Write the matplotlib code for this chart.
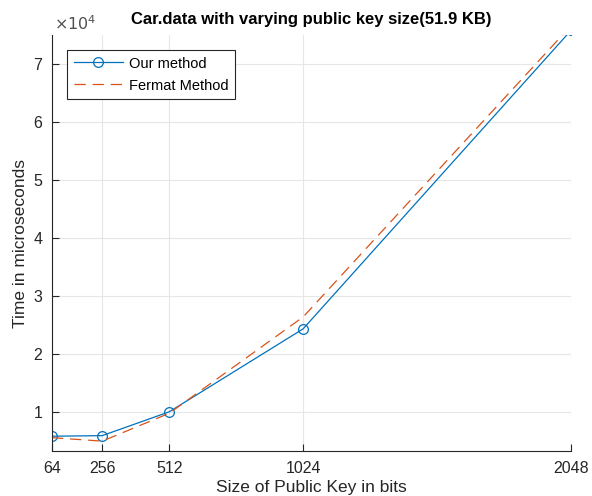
import matplotlib
matplotlib.use('Agg')
import matplotlib.pyplot as plt

# 数据
key_sizes = [64, 256, 512, 1024, 2048]
our_method = [5850, 5950, 10050, 24350, 75800]
fermat_method = [5600, 5000, 9800, 26400, 76600]
x_ticks = [64, 256, 512, 1024, 2048]
y_ticks = [10000, 20000, 30000, 40000, 50000, 60000, 70000]
y_tick_labels = ['1', '2', '3', '4', '5', '6', '7']

plt.rcParams['font.family'] = ['Liberation Sans', 'DejaVu Sans']

blue = '#0072BD'
orange = '#D95319'
axis_col = '#262626'

fig = plt.figure(figsize=(5.92, 4.96), dpi=100)
ax = fig.add_axes([0.0878, 0.0907, 0.8767, 0.8387])

ax.plot(key_sizes, our_method, color=blue, linewidth=0.9, marker='o',
        markersize=7, markerfacecolor='none', markeredgewidth=0.9,
        label='Our method')
ax.plot(key_sizes, fermat_method, color=orange, linewidth=0.9,
        linestyle=(0, (9, 5.5)), label='Fermat Method')

ax.set_xlim(64, 2048)
ax.set_ylim(3300, 75000)
ax.set_xticks(x_ticks)
ax.set_yticks(y_ticks)
ax.set_yticklabels(y_tick_labels)

ax.grid(True, color='#e6e6e6', linewidth=0.8)
ax.set_axisbelow(True)
ax.spines['top'].set_visible(False)
ax.spines['right'].set_visible(False)
for s in ['left', 'bottom']:
    ax.spines[s].set_color(axis_col)
    ax.spines[s].set_linewidth(0.8)
ax.tick_params(direction='in', length=5, width=0.8, colors=axis_col,
               labelsize=11.5, pad=7)

ax.set_xlabel('Size of Public Key in bits', fontsize=12.5, color=axis_col, labelpad=3)
ax.set_ylabel('Time in microseconds', fontsize=12.5, color=axis_col, labelpad=4)
ax.set_title('Car.data with varying public key size(51.9 KB)', fontsize=12,
             fontweight='bold', color='black', pad=8)

ax.text(0.003, 1.005, r'$\times10^{4}$', transform=ax.transAxes, fontsize=11.5,
        color='#505050', ha='left', va='bottom',
        math_fontfamily='dejavusans')

leg = ax.legend(loc='upper left', bbox_to_anchor=(0.029, 0.964), fontsize=10.5,
                fancybox=False, framealpha=1, edgecolor=axis_col,
                handlelength=3.4, borderpad=0.45, labelspacing=0.55,
                handletextpad=0.4, borderaxespad=0)
leg.get_frame().set_linewidth(0.8)

fig.savefig('out.png', dpi=100)
